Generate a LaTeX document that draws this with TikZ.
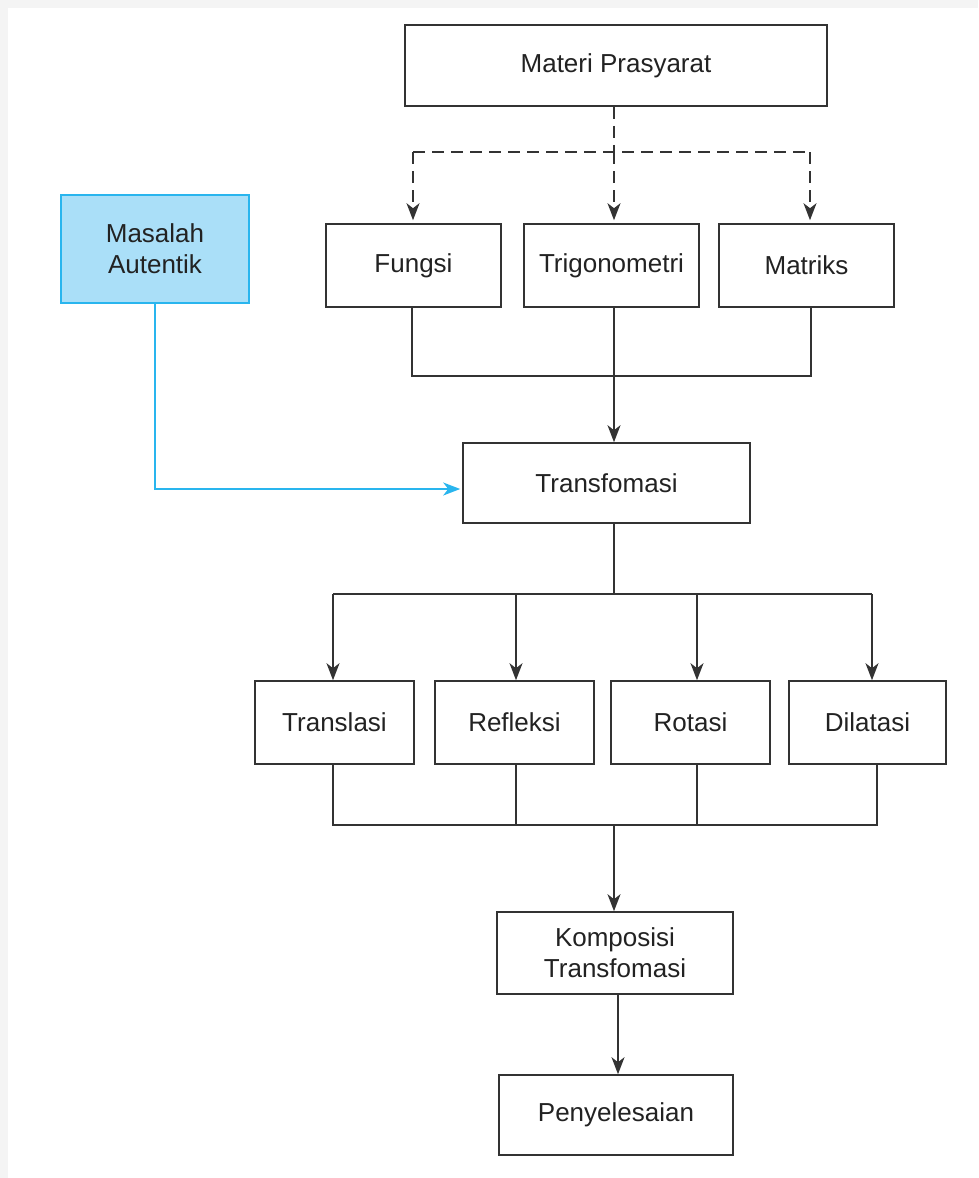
\documentclass[tikz,border=0pt]{standalone}
\usepackage{fontspec}
\setmainfont{Liberation Sans}
\usetikzlibrary{arrows.meta}
\definecolor{frame}{HTML}{F4F4F4}
\definecolor{ink}{HTML}{333333}
\definecolor{txt}{HTML}{222222}
\definecolor{bluefill}{HTML}{AADFF8}
\definecolor{blueline}{HTML}{29B5EE}
\tikzset{
  box/.style={draw=ink, line width=1.6pt, fill=white, rectangle, align=center,
    text=txt, font=\fontsize{26}{31}\selectfont, inner sep=0pt},
  conn/.style={draw=ink, line width=1.6pt},
  tip/.style={-{Stealth[length=17pt,width=13pt,inset=5pt]}},
  arr/.style={conn, tip},
  dashconn/.style={conn, dash pattern=on 12pt off 7pt},
  darr/.style={dashconn, tip},
  bluearr/.style={draw=blueline, line width=1.6pt, tip}
}
\begin{document}
\begin{tikzpicture}[x=1pt,y=-1pt]
\useasboundingbox (0,0) rectangle (978,1178);
\fill[frame] (0,0) rectangle (978,1178);
\fill[white] (8,8) rectangle (978,1178);

\node[box, minimum width=422pt, minimum height=81pt] (materi) at (616,65.5) {Materi Prasyarat};
\node[box, minimum width=175pt, minimum height=83pt] (fungsi) at (413.5,265.5) {Fungsi};
\node[box, minimum width=175pt, minimum height=83pt] (trigo) at (611.5,265.5) {Trigonometri};
\node[box, minimum width=175pt, minimum height=83pt] (matriks) at (806.5,265.5) {Matriks};
\node[box, draw=blueline, fill=bluefill, minimum width=188pt, minimum height=108pt] (masalah) at (155,249) {Masalah\\Autentik};
\node[box, minimum width=287pt, minimum height=80pt] (transf) at (606.5,483) {Transfomasi};
\node[box, minimum width=159pt, minimum height=83pt] (translasi) at (334.5,722.5) {Translasi};
\node[box, minimum width=159pt, minimum height=83pt] (refleksi) at (514.5,722.5) {Refleksi};
\node[box, minimum width=159pt, minimum height=83pt] (rotasi) at (690.5,722.5) {Rotasi};
\node[box, minimum width=157pt, minimum height=83pt] (dilatasi) at (867.5,722.5) {Dilatasi};
\node[box, minimum width=236pt, minimum height=82pt] (komposisi) at (615,953) {Komposisi\\Transfomasi};
\node[box, minimum width=234pt, minimum height=80pt] (penyelesaian) at (616,1115) {Penyelesaian};

% dashed prerequisites
\coordinate (d0) at (614,152);
\draw[dashconn] (d0 |- materi.south) -- (d0);
\draw[dashconn] ([xshift=-0.5pt]fungsi.north |- d0) -- ([xshift=3.5pt]matriks.north |- d0);
\draw[darr, shorten >=3pt] ([xshift=-0.5pt]fungsi.north |- d0) -- ([xshift=-0.5pt]fungsi.north);
\draw[darr, shorten >=3pt] (d0) -- (d0 |- trigo.north);
\draw[darr, shorten >=3pt] ([xshift=3.5pt]matriks.north |- d0) -- ([xshift=3.5pt]matriks.north);

% join to Transformasi
\coordinate (j1) at (614,376);
\draw[conn] ([xshift=-1.5pt]fungsi.south) |- ([xshift=4.5pt]matriks.south |- j1) -- ([xshift=4.5pt]matriks.south);
\draw[conn] (j1 |- trigo.south) -- (j1);
\draw[arr] (j1) -- (j1 |- transf.north);

% authentic problem
\draw[bluearr, shorten >=2pt] (masalah.south) |- ([yshift=-6pt]transf.west);

% split to four transformations
\coordinate (j2) at (614,594);
\draw[conn] (j2 |- transf.south) -- (j2);
\draw[conn] ([xshift=-1.5pt]translasi.north |- j2) -- ([xshift=4.5pt]dilatasi.north |- j2);
\draw[arr] ([xshift=-1.5pt]translasi.north |- j2) -- ([xshift=-1.5pt]translasi.north);
\draw[arr] ([xshift=1.5pt]refleksi.north |- j2) -- ([xshift=1.5pt]refleksi.north);
\draw[arr] ([xshift=6.5pt]rotasi.north |- j2) -- ([xshift=6.5pt]rotasi.north);
\draw[arr] ([xshift=4.5pt]dilatasi.north |- j2) -- ([xshift=4.5pt]dilatasi.north);

% merge to composition
\coordinate (j3) at (614,825);
\draw[conn] ([xshift=-1.5pt]translasi.south) |- ([xshift=9.5pt]dilatasi.south |- j3) -- ([xshift=9.5pt]dilatasi.south);
\draw[conn] ([xshift=1.5pt]refleksi.south) -- ([xshift=1.5pt]refleksi.south |- j3);
\draw[conn] ([xshift=6.5pt]rotasi.south) -- ([xshift=6.5pt]rotasi.south |- j3);
\draw[arr] (j3) -- (j3 |- komposisi.north);

\draw[arr] ([xshift=3pt]komposisi.south) -- ([xshift=3pt]komposisi.south |- penyelesaian.north);
\end{tikzpicture}
\end{document}
